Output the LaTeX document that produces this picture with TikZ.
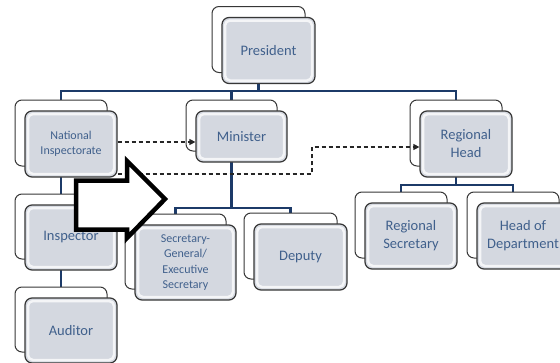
\documentclass[tikz,border=0pt]{standalone}
\usepackage{fontspec}
\setmainfont{Carlito}
\usetikzlibrary{arrows.meta,backgrounds}
\definecolor{txtblue}{RGB}{64,96,140}
\definecolor{boxgray}{RGB}{212,216,224}
\definecolor{navy}{RGB}{28,58,104}
\definecolor{edgegray}{RGB}{55,55,55}
\tikzset{
 backbox/.style={draw=edgegray, line width=1pt, fill=white, rounded corners=7pt, inner sep=0pt},
 frontbox/.style={draw=edgegray, line width=1.2pt, fill=boxgray, rounded corners=7pt, inner sep=0pt,
   align=center, text=txtblue, font=\fontsize{14.5}{18}\selectfont,
   path picture={\draw[white, opacity=0.75, line width=2.5pt, rounded corners=5pt]
     ([shift={(3pt,3pt)}]path picture bounding box.south west) rectangle
     ([shift={(-3pt,-3pt)}]path picture bounding box.north east);}},
 smalltext/.style={font=\fontsize{12}{15.5}\selectfont},
 conn/.style={draw=navy, line width=2.4pt},
 dsh/.style={draw=black!85, line width=1.2pt, dash pattern=on 4pt off 3pt},
 bigarrow/.style={draw=black, line width=4.5pt, fill=white, miter limit=10}
}
\newcommand\orgunit[7][]{%
 \node[backbox, minimum width=#5pt, minimum height=#6pt] (#2B) at (#3-10,#4-11) {};
 \node[frontbox, minimum width=#5pt, minimum height=#6pt, #1] (#2) at (#3,#4) {#7};}
\begin{document}
\begin{tikzpicture}[x=1pt,y=-1pt]
\useasboundingbox (0,0) rectangle (560,362);
\orgunit{pres}{268.5}{50.5}{93}{66}{President}
\orgunit[smalltext]{nat}{71}{144}{92}{66}{National\\Inspectorate}
\orgunit{min}{241.5}{136.5}{91}{51}{Minister}
\orgunit{reg}{466}{144}{92}{66}{Regional\\Head}
\orgunit{insp}{71}{237.5}{92}{65}{Inspector}
\orgunit{aud}{71}{330.5}{92}{65}{Auditor}
\orgunit[smalltext]{sec}{185.5}{262.5}{101}{75}{Secretary-\\General/\\Executive\\Secretary}
\orgunit{dep}{300.5}{257}{93}{66}{Deputy}
\orgunit{rs}{411}{236}{92}{66}{Regional\\Secretary}
\orgunit{hd}{523}{236}{92}{66}{Head of\\Department}
\coordinate (busA) at (0,91);
\coordinate (busB) at (0,208);
\coordinate (busC) at (0,185);
\begin{scope}[on background layer]
\fill[white] (0,0) rectangle (560,362);
\draw[conn] (natB.center) -- (natB |- busA) -- (regB |- busA) -- (regB.center);
\draw[conn] (presB.center) -- (presB |- busA);
\draw[conn] (minB.center) -- (minB |- busA);
\draw[conn] (minB.center) -- (minB |- busB);
\draw[conn] (secB.center) -- (secB |- busB) -- (depB |- busB) -- (depB.center);
\draw[conn] (regB.center) -- (regB |- busC);
\draw[conn] (rsB.center) -- (rsB |- busC) -- (hdB |- busC) -- (hdB.center);
\draw[conn] (natB.center) -- (audB.center);
\end{scope}
\coordinate (d1) at (312,174);
\coordinate (d2) at (312,147);
\draw[dsh,-{Triangle[length=6pt,width=6pt]}] ([yshift=2pt]nat.east) -- ([yshift=2pt]nat.east -| min.west);
\draw[dsh,-{Triangle[length=6pt,width=6pt]}] (nat.east |- d1) -- (d1) -- (d2) -- (d2 -| reg.west);
\draw[bigarrow] (76,180.5) -- (127,180.5) -- (127,161) -- (165,199) -- (127,238) -- (127,229.5) -- (76,229.5) -- cycle;
\end{tikzpicture}
\end{document}
